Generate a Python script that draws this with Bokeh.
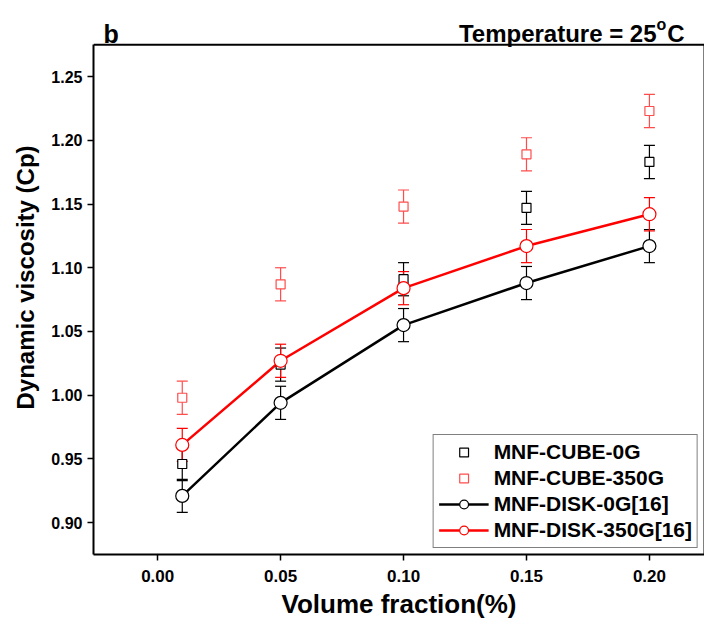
from bokeh.plotting import figure
from bokeh.models import (ColumnDataSource, Whisker, TeeHead, Legend, LegendItem,
                          Label, Range1d, FixedTicker, LinearAxis, Span)
from bokeh.embed import file_html
from bokeh.resources import INLINE

# ---- data ----
volume_fraction = [0.01, 0.05, 0.10, 0.15, 0.20]
cube_0g = [0.946, 1.024, 1.091, 1.147, 1.183]
cube_0g_err = [0.013, 0.013, 0.013, 0.013, 0.013]
cube_350g = [0.998, 1.087, 1.148, 1.189, 1.223]
cube_350g_err = [0.013, 0.013, 0.013, 0.013, 0.013]
disk_0g = [0.921, 0.994, 1.055, 1.088, 1.117]
disk_0g_err = [0.013, 0.013, 0.013, 0.013, 0.013]
disk_350g = [0.961, 1.027, 1.084, 1.117, 1.142]
disk_350g_err = [0.013, 0.013, 0.013, 0.013, 0.013]

x_ticks = [0.00, 0.05, 0.10, 0.15, 0.20]
y_ticks = [0.90, 0.95, 1.00, 1.05, 1.10, 1.15, 1.20, 1.25]

FONT = "Liberation Sans"
RED = "#ff0000"
LRED = "#ff4d4d"

Y_MIN, Y_BOX_TOP, Y_MAX = 0.875, 1.275, 1.3097
X_MIN, X_MAX = -0.0261, 0.2224

p = figure(width=704, height=622, output_backend="svg", toolbar_location=None,
           x_range=Range1d(X_MIN, X_MAX), y_range=Range1d(Y_MIN, Y_MAX),
           min_border_left=93, min_border_right=0, min_border_top=0, min_border_bottom=68)

p.xgrid.visible = False
p.ygrid.visible = False
p.outline_line_color = None

# right border of the box as a bare axis (no ticks, no labels)
rax = LinearAxis(bounds=(Y_MIN, Y_BOX_TOP), ticker=FixedTicker(ticks=[]),
                 major_tick_line_color=None, minor_tick_line_color=None,
                 axis_line_width=2, axis_line_color="black")
p.add_layout(rax, "right")
# top border of the box
p.add_layout(Span(location=Y_BOX_TOP, dimension="width", line_color="black", line_width=2))

for ax in (p.xaxis[0], p.yaxis[0]):
    ax.axis_line_width = 2
    ax.major_tick_line_width = 1.5
    ax.major_tick_out = 6
    ax.major_tick_in = 0
    ax.minor_tick_line_color = None
    ax.major_label_text_font = FONT
    ax.major_label_text_font_style = "bold"
    ax.major_label_text_color = "black"
    ax.axis_label_text_font = FONT
    ax.axis_label_text_font_style = "bold"
    ax.axis_label_text_color = "black"

p.yaxis[0].bounds = (Y_MIN, Y_BOX_TOP)
p.xaxis.ticker = FixedTicker(ticks=x_ticks)
p.yaxis[0].ticker = FixedTicker(ticks=y_ticks)
p.xaxis.major_label_overrides = {t: f"{t:.2f}" for t in x_ticks}
p.yaxis[0].major_label_overrides = {t: f"{t:.2f}" for t in y_ticks}
p.xaxis.major_label_text_font_size = "17px"
p.yaxis[0].major_label_text_font_size = "16px"
p.xaxis.axis_label_text_font_size = "26px"
p.yaxis[0].axis_label_text_font_size = "24px"
p.xaxis.axis_label = "Volume fraction(%)"
p.yaxis[0].axis_label = "Dynamic viscosity (Cp)"
p.xaxis.major_label_standoff = 9
p.yaxis[0].major_label_standoff = 5
p.xaxis.axis_label_standoff = 4
p.yaxis[0].axis_label_standoff = 9


def make_src(vals, errs):
    return ColumnDataSource(dict(x=volume_fraction, y=vals,
                                 upper=[v + e for v, e in zip(vals, errs)],
                                 lower=[v - e for v, e in zip(vals, errs)]))


src_c0 = make_src(cube_0g, cube_0g_err)
src_c350 = make_src(cube_350g, cube_350g_err)
src_d0 = make_src(disk_0g, disk_0g_err)
src_d350 = make_src(disk_350g, disk_350g_err)

for src, col in ((src_c0, "black"), (src_c350, LRED), (src_d0, "black"), (src_d350, RED)):
    w = Whisker(source=src, base="x", upper="upper", lower="lower",
                line_color=col, line_width=1.2,
                upper_head=TeeHead(size=11, line_color=col, line_width=1.2),
                lower_head=TeeHead(size=11, line_color=col, line_width=1.2))
    p.add_layout(w)

l_d0 = p.line("x", "y", source=src_d0, line_color="black", line_width=2.5)
l_d350 = p.line("x", "y", source=src_d350, line_color=RED, line_width=2.5)

s_c0 = p.scatter("x", "y", source=src_c0, marker="square", size=9,
                 line_color="black", fill_color="white", line_width=1.2)
s_c350 = p.scatter("x", "y", source=src_c350, marker="square", size=9,
                   line_color=LRED, fill_color="white", line_width=1.2)
c_d0 = p.scatter("x", "y", source=src_d0, marker="circle", size=13,
                 line_color="black", fill_color="white", line_width=1.2)
c_d350 = p.scatter("x", "y", source=src_d350, marker="circle", size=13,
                   line_color=RED, fill_color="white", line_width=1.2)

legend = Legend(items=[
    LegendItem(label="MNF-CUBE-0G", renderers=[s_c0]),
    LegendItem(label="MNF-CUBE-350G", renderers=[s_c350]),
    LegendItem(label="MNF-DISK-0G[16]", renderers=[l_d0, c_d0]),
    LegendItem(label="MNF-DISK-350G[16]", renderers=[l_d350, c_d350]),
], location="bottom_right")
legend.label_text_font = FONT
legend.label_text_font_style = "bold"
legend.label_text_font_size = "21px"
legend.label_text_color = "black"
legend.border_line_color = "black"
legend.border_line_width = 1
legend.background_fill_alpha = 1.0
legend.glyph_width = 50
legend.glyph_height = 22
legend.label_height = 22
legend.spacing = 2
legend.padding = 5
legend.margin = 6
legend.label_standoff = 5
p.add_layout(legend, "center")

# Panel letter and temperature (placed in the area above the box)
p.add_layout(Label(x=-0.022, y=1.2838, text="b", text_font=FONT, text_font_style="bold",
                   text_color="black", text_font_size="25px", text_baseline="alphabetic",
                   text_align="left"))
p.add_layout(Label(x=0.2029, y=1.2838, text="Temperature = 25", text_font=FONT,
                   text_font_style="bold", text_color="black", text_font_size="24px",
                   text_baseline="alphabetic", text_align="right"))
p.add_layout(Label(x=0.2029, y=1.2905, text="o", text_font=FONT,
                   text_font_style="bold", text_color="black", text_font_size="16px",
                   text_baseline="alphabetic", text_align="left"))
p.add_layout(Label(x=0.2072, y=1.2838, text="C", text_font=FONT,
                   text_font_style="bold", text_color="black", text_font_size="24px",
                   text_baseline="alphabetic", text_align="left"))

open("out.html", "w").write(file_html(p, INLINE))
